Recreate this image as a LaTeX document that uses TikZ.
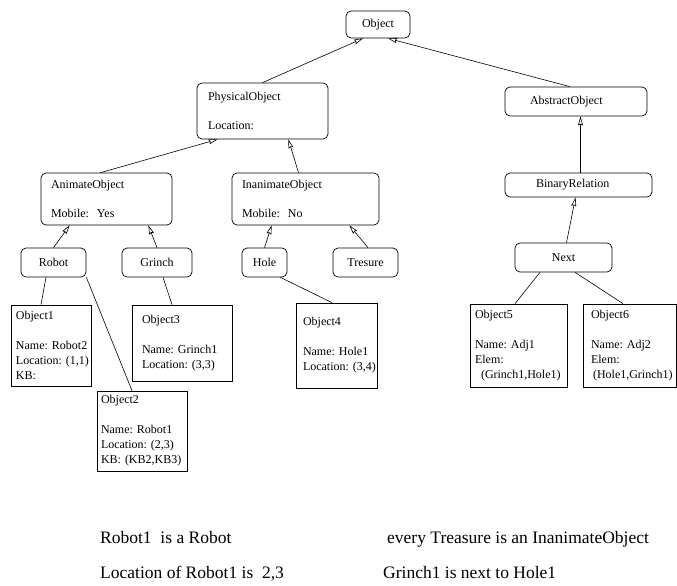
\documentclass[tikz,border=0pt]{standalone}
\usepackage{fontspec}
\setmainfont{Liberation Serif}
\usetikzlibrary{arrows.meta}
\tikzset{
  konzept/.style={draw,rounded corners=5pt,line width=0.7pt,inner ysep=2pt,font=\fontsize{12}{14.5}\selectfont},
  instanz/.style={draw,line width=0.7pt,align=left,inner xsep=5pt,inner ysep=2pt,font=\fontsize{12}{15}\selectfont},
  isa/.style={-{Stealth[open,length=9pt,width=5pt,inset=1pt]},line width=0.6pt},
  lnk/.style={line width=0.6pt},
  satz/.style={anchor=base west,inner sep=0pt,font=\fontsize{17.5}{21}\selectfont},
}

\begin{document}
\begin{tikzpicture}[x=1pt,y=-1pt]
  \useasboundingbox (0,0) rectangle (677,586);
  % Begriffe
  \node[konzept,minimum width=64pt,minimum height=27pt] (object) at (378,24.5) {Object};
  \node[konzept,align=left,inner xsep=11pt,text width=109pt,minimum height=56pt] (physical) at (262.5,111) {PhysicalObject\\[14.5pt]Location:};
  \node[konzept,align=left,inner xsep=25pt,text width=92pt,minimum height=29pt] (abstract) at (576,101.5) {AbstractObject};
  \node[konzept,align=left,inner xsep=31pt,text width=85pt,minimum height=24pt] (binary) at (578.5,185) {BinaryRelation};
  \node[konzept,minimum width=97pt,minimum height=29pt] (next) at (563.5,257.5) {Next};
  \node[konzept,align=left,inner xsep=10pt,text width=111pt,minimum height=52pt] (animate) at (106.5,199) {AnimateObject\\[14.5pt]Mobile:~~Yes};
  \node[konzept,align=left,inner xsep=10pt,text width=127pt,minimum height=52pt] (inanimate) at (305.5,199) {InanimateObject\\[14.5pt]Mobile:~~No};
  \node[konzept,minimum width=65pt,minimum height=29pt] (robot) at (53.5,262.5) {Robot};
  \node[konzept,minimum width=70pt,minimum height=29pt] (grinch) at (157,262.5) {Grinch};
  \node[konzept,minimum width=45pt,minimum height=29pt] (hole) at (264.5,262.5) {Hole};
  \node[konzept,minimum width=65pt,minimum height=29pt] (tresure) at (365.5,262.5) {Tresure};
  % Instanzen
  \node[instanz,text width=70pt,minimum height=81pt] (o1) at (51,345.5) {Object1\\[15pt]Name:~Robot2\\Location:~(1,1)\\KB:};
  \node[instanz,inner xsep=4pt,text width=82pt,minimum height=80pt] (o2) at (142,431) {Object2\\[15pt]Name:~Robot1\\Location:~(2,3)\\KB:~(KB2,KB3)};
  \node[instanz,inner xsep=10pt,text width=80pt,minimum height=76pt] (o3) at (182,343) {Object3\\[15pt]Name:~Grinch1\\Location:~(3,3)};
  \node[instanz,inner xsep=7pt,text width=67pt,minimum height=85pt] (o4) at (336.5,345.5) {Object4\\[15pt]Name:~Hole1\\Location:~(3,4)};
  \node[instanz,text width=87pt,minimum height=83pt] (o5) at (518.5,345.5) {Object5\\[15pt]Name:~Adj1\\Elem:\\\hspace*{6pt}(Grinch1,Hole1)};
  \node[instanz,inner xsep=8pt,text width=77pt,minimum height=83pt] (o6) at (629.5,345.5) {Object6\\[15pt]Name:~Adj2\\Elem:\\\hspace*{2pt}(Hole1,Grinch1)};
  % Vererbung
  \draw[isa] (physical.north) -- ([xshift=-15pt]object.south);
  \draw[isa] ([xshift=-6pt]abstract.north) -- ([xshift=10pt]object.south);
  \draw[isa] ([xshift=2pt]binary.north) -- ([xshift=2pt]binary.north |- abstract.south);
  \draw[isa] ([xshift=3pt]next.north) -- ([xshift=-3pt]binary.south);
  \draw[isa] ([xshift=-6pt]animate.north) -- ([xshift=21pt]physical.south west);
  \draw[isa] ([xshift=-7pt]inanimate.north) -- ([xshift=-40pt]physical.south east);
  \draw[isa] (robot.north) -- ([xshift=29pt]animate.south west);
  \draw[isa] (grinch.north) -- ([xshift=-24pt]animate.south east);
  \draw[isa] (hole.north) -- ([xshift=40pt]inanimate.south west);
  \draw[isa] ([xshift=2.5pt]tresure.north) -- ([xshift=-30pt]inanimate.south east);
  % Instanz-Linien
  \draw[lnk] ([xshift=-7.5pt]robot.south) -- ([xshift=-10pt]o1.north);
  \draw[lnk] (robot.south east) -- ([xshift=-10pt]o2.north);
  \draw[lnk] ([xshift=6pt]grinch.south) -- ([xshift=-10pt]o3.north);
  \draw[lnk] ([xshift=-7pt]hole.south east) -- ([xshift=-4.5pt]o4.north);
  \draw[lnk] ([xshift=-23.5pt]next.south) -- ([xshift=-3.5pt]o5.north);
  \draw[lnk] ([xshift=11.5pt]next.south) -- ([xshift=-6.5pt]o6.north);
  % Aussagen
  \node[satz] (s1) at (100,543) {Robot1~ is a Robot};
  \node[satz] (s2) at (100,578) {Location of Robot1 is~ 2,3};
  \node[satz] (s3) at (387,543) {every Treasure is an InanimateObject};
  \node[satz] (s4) at (383,578) {Grinch1 is next to Hole1};
\end{tikzpicture}
\end{document}
